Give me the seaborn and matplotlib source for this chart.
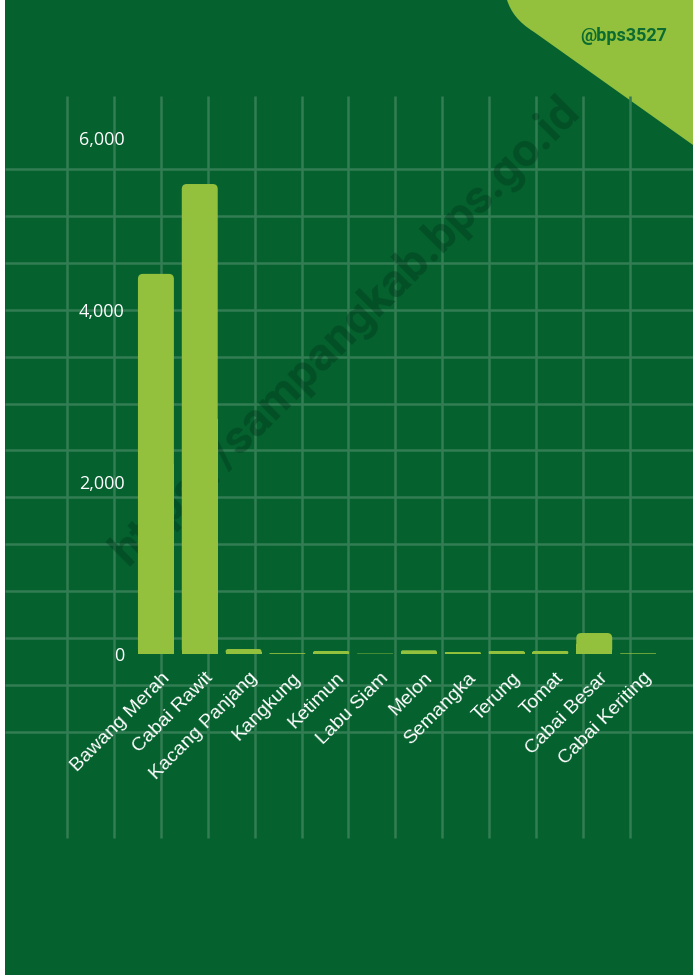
import matplotlib
matplotlib.use('Agg')
import matplotlib.pyplot as plt
import matplotlib.transforms as mtransforms
from matplotlib.patches import Rectangle, FancyBboxPatch, PathPatch
from matplotlib.path import Path
import seaborn as sns
import pandas as pd

komoditas = ['Bawang Merah', 'Cabai Rawit', 'Kacang Panjang', 'Kangkung', 'Ketimun',
             'Labu Siam', 'Melon', 'Semangka', 'Terung', 'Tomat', 'Cabai Besar',
             'Cabai Keriting']
produksi = [4420, 5465, 58, 10, 35, 5, 43, 23, 35, 35, 244, 8]
y_ticks = [0, 2000, 4000, 6000]

BG = '#05612e'
BAR = '#93c13e'
GRID = '#327d54'

W, H = 693, 977
sns.set_theme(style='white')
plt.rcParams['font.family'] = ['Roboto', 'DejaVu Sans']

fig = plt.figure(figsize=(W / 100, H / 100), dpi=100, facecolor='white')

# background layer in pixel coordinates
bg = fig.add_axes([0, 0, 1, 1], zorder=0)
bg.set_xlim(0, W)
bg.set_ylim(H, 0)
bg.axis('off')
bg.add_patch(Rectangle((5, 0), W - 5, H - 2, color=BG, lw=0))
for gx in range(13):
    x = 67 + gx * 46.9
    bg.plot([x, x], [96, 838], color=GRID, lw=1.8, solid_capstyle='butt')
for gy in range(13):
    y = 169 + gy * 46.9
    bg.plot([5, W], [y, y], color=GRID, lw=1.8, solid_capstyle='butt')

# corner shape
verts = [(507, 0), (511, 12), (518, 22), (534, 32), (W, 145), (W, 0), (507, 0)]
codes = [Path.MOVETO, Path.CURVE4, Path.CURVE4, Path.CURVE4, Path.LINETO, Path.LINETO,
         Path.CLOSEPOLY]
bg.add_patch(PathPatch(Path(verts, codes), facecolor=BAR, lw=0))
bg.text(624, 36, '@bps3527', color='#0b6b30', fontsize=13, fontweight='bold',
        ha='center', va='center')
bg.text(346, 331, 'https://sampangkab.bps.go.id', color='#003018', alpha=0.35,
        fontsize=34, fontweight='bold', rotation=45, ha='center', va='center')

# chart axes
ymax = 6300
x0, x1 = 134, 660
y0 = 654
ytop = y0 - ymax * 86 / 1000
ax = fig.add_axes([x0 / W, (H - y0) / H, (x1 - x0) / W, (y0 - ytop) / H], zorder=1)
ax.patch.set_alpha(0)

df = pd.DataFrame({'komoditas': komoditas, 'produksi': produksi})
sns.barplot(data=df, x='komoditas', y='produksi', color=BAR, width=0.82,
            saturation=1, ax=ax)
ax.set_xlim(-0.5, len(komoditas) - 0.5)
ax.set_ylim(0, ymax)

# rounded tops
px_x = (x1 - x0) / len(komoditas)
px_y = 86 / 1000
for bar in list(ax.patches):
    bx, bw, bh = bar.get_x(), bar.get_width(), bar.get_height()
    h_px = bh * px_y
    r_px = min(5, h_px / 2, bw * px_x / 2)
    bar.set_visible(False)
    if h_px <= 0:
        continue
    aspect = (1 / px_y) / (1 / px_x)
    ax.add_patch(FancyBboxPatch((bx, 0), bw, bh,
                                boxstyle=f'round,pad=0,rounding_size={r_px / px_x}',
                                mutation_aspect=aspect, facecolor=BAR, lw=0))
    ax.add_patch(Rectangle((bx, 0), bw, bh / 2, facecolor=BAR, lw=0))

for s in ax.spines.values():
    s.set_visible(False)
ax.set_xlabel('')
ax.set_ylabel('')
ax.set_yticks(y_ticks)
ax.set_yticklabels([f'{v:,}' for v in y_ticks], family=['Open Sans', 'DejaVu Sans'])
ax.tick_params(axis='y', length=0, pad=7, labelsize=13, labelcolor='white')
ax.tick_params(axis='x', length=0, pad=11, labelsize=14, labelcolor='white')
offset = mtransforms.ScaledTranslation(5 / 100, 0, fig.dpi_scale_trans)
for lab in ax.get_xticklabels():
    lab.set_family(['Liberation Sans', 'DejaVu Sans'])
    lab.set_rotation(45)
    lab.set_ha('right')
    lab.set_rotation_mode('anchor')
    lab.set_transform(lab.get_transform() + offset)

fig.savefig('out.png', dpi=100, facecolor='white')
